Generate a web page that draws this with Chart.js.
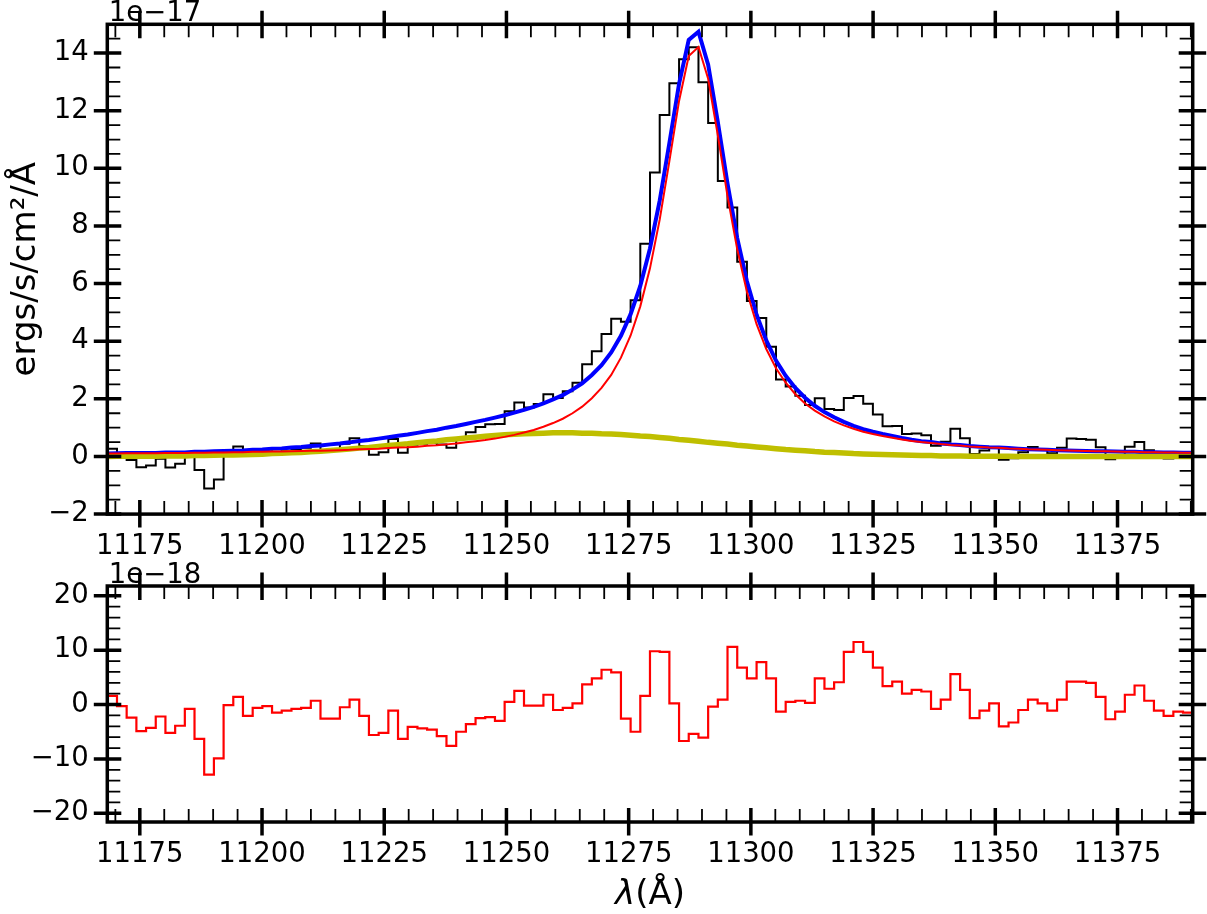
<!DOCTYPE html>
<html>
<head>
<meta charset="utf-8">
<title>Line fit</title>
<script src="https://cdn.jsdelivr.net/npm/chart.js@4/dist/chart.umd.min.js"></script>
<style>
  html, body { margin: 0; padding: 0; background: #fff; }
  #wrap { position: relative; width: 1207px; height: 914px; overflow: hidden; }
  canvas { position: absolute; left: 0; }
  #fluxChart { top: 0; }
  #residChart { top: 560px; }
</style>
</head>
<body>
<div id="wrap">
  <canvas id="fluxChart" width="1207" height="560"></canvas>
  <canvas id="residChart" width="1207" height="354"></canvas>
</div>
<script>
// === Data ===
// wavelength grid (Å); each bin runs from one point to the next
const wavelength = [
  11168.35, 11170.33, 11172.31, 11174.30, 11176.28, 11178.26, 11180.24, 11182.23, 11184.21, 11186.19,
  11188.17, 11190.16, 11192.14, 11194.12, 11196.10, 11198.09, 11200.07, 11202.05, 11204.03, 11206.02,
  11208.00, 11209.98, 11211.96, 11213.95, 11215.93, 11217.91, 11219.89, 11221.87, 11223.86, 11225.84,
  11227.82, 11229.80, 11231.79, 11233.77, 11235.75, 11237.73, 11239.72, 11241.70, 11243.68, 11245.66,
  11247.65, 11249.63, 11251.61, 11253.59, 11255.58, 11257.56, 11259.54, 11261.52, 11263.51, 11265.49,
  11267.47, 11269.45, 11271.43, 11273.42, 11275.40, 11277.38, 11279.36, 11281.35, 11283.33, 11285.31,
  11287.29, 11289.28, 11291.26, 11293.24, 11295.22, 11297.21, 11299.19, 11301.17, 11303.15, 11305.14,
  11307.12, 11309.10, 11311.08, 11313.07, 11315.05, 11317.03, 11319.01, 11321.00, 11322.98, 11324.96,
  11326.94, 11328.92, 11330.91, 11332.89, 11334.87, 11336.85, 11338.84, 11340.82, 11342.80, 11344.78,
  11346.77, 11348.75, 11350.73, 11352.71, 11354.70, 11356.68, 11358.66, 11360.64, 11362.63, 11364.61,
  11366.59, 11368.57, 11370.56, 11372.54, 11374.52, 11376.50, 11378.49, 11380.47, 11382.45, 11384.43,
  11386.42, 11388.40, 11390.38
];

// observed flux per bin (1e-17 ergs/s/cm2/Å)
const fluxData = [
  0.27, 0.09, -0.12, -0.37, -0.31, -0.08, -0.38, -0.25, 0.08, -0.47,
  -1.11, -0.80, 0.19, 0.35, 0.02, 0.18, 0.24, 0.13, 0.20, 0.25,
  0.30, 0.45, 0.16, 0.19, 0.44, 0.63, 0.36, 0.06, 0.15, 0.61,
  0.13, 0.41, 0.44, 0.47, 0.42, 0.30, 0.63, 0.84, 1.02, 1.12,
  1.13, 1.57, 1.87, 1.70, 1.82, 2.16, 2.03, 2.26, 2.56, 3.20,
  3.65, 4.25, 4.78, 4.68, 5.42, 7.38, 9.86, 11.85, 12.95, 13.79,
  14.20, 12.99, 11.57, 9.56, 8.64, 6.76, 5.40, 4.81, 3.81, 2.67,
  2.43, 2.11, 1.79, 2.02, 1.65, 1.61, 2.03, 2.10, 1.83, 1.46,
  1.05, 1.06, 0.78, 0.80, 0.74, 0.37, 0.51, 0.96, 0.63, 0.09,
  0.21, 0.33, -0.11, -0.06, 0.15, 0.33, 0.25, 0.11, 0.30, 0.62,
  0.61, 0.58, 0.32, -0.10, 0.03, 0.34, 0.50, 0.22, 0.03, -0.07,
  0.00, -0.02
];

// residual per bin (1e-18)
const residual = [
  1.6, -0.3, -2.4, -4.9, -4.3, -2.2, -5.2, -3.9, -0.8, -6.3,
  -12.9, -9.9, -0.1, 1.4, -2.1, -0.6, -0.3, -1.5, -1.1, -0.8,
  -0.6, 0.7, -2.6, -2.6, -0.5, 0.9, -2.1, -5.6, -5.2, -1.1,
  -6.3, -4.1, -4.4, -4.6, -5.8, -7.6, -5.0, -3.6, -2.5, -2.3,
  -3.0, 0.5, 2.5, -0.2, -0.2, 1.8, -1.0, -0.6, 0.2, 3.7,
  4.8, 6.4, 5.9, -2.6, -5.0, 1.6, 9.8, 9.7, 0.2, -6.7,
  -5.4, -6.1, -0.4, 0.9, 10.6, 6.8, 4.8, 7.8, 4.8, -1.3,
  0.5, 0.7, 0.3, 4.8, 2.9, 4.1, 9.7, 11.5, 9.7, 6.8,
  3.4, 4.2, 2.0, 2.7, 2.4, -0.8, 0.9, 5.6, 2.7, -2.5,
  -1.1, 0.2, -4.0, -3.3, -1.0, 0.9, 0.2, -1.1, 0.9, 4.2,
  4.2, 4.0, 1.4, -2.7, -1.3, 1.8, 3.5, 0.7, -1.1, -2.1,
  -1.3, -1.5
];

// fitted curves at the wavelength points (1e-17)
const modelTotal = [
  0.10, 0.11, 0.12, 0.12, 0.12, 0.12, 0.14, 0.14, 0.14, 0.16,
  0.16, 0.18, 0.19, 0.20, 0.21, 0.23, 0.24, 0.27, 0.28, 0.31,
  0.33, 0.36, 0.38, 0.42, 0.45, 0.49, 0.54, 0.57, 0.62, 0.67,
  0.72, 0.76, 0.82, 0.88, 0.93, 1.00, 1.06, 1.13, 1.20, 1.27,
  1.35, 1.43, 1.52, 1.62, 1.72, 1.84, 1.98, 2.13, 2.32, 2.54,
  2.83, 3.17, 3.61, 4.19, 4.94, 5.92, 7.22, 8.88, 10.88, 12.93,
  14.46, 14.74, 13.60, 11.61, 9.47, 7.58, 6.08, 4.92, 4.03, 3.33,
  2.80, 2.38, 2.04, 1.76, 1.54, 1.36, 1.20, 1.06, 0.95, 0.86,
  0.78, 0.71, 0.64, 0.58, 0.53, 0.50, 0.45, 0.42, 0.40, 0.36,
  0.34, 0.32, 0.31, 0.29, 0.27, 0.25, 0.24, 0.23, 0.22, 0.21,
  0.20, 0.19, 0.18, 0.18, 0.17, 0.16, 0.16, 0.15, 0.15, 0.14,
  0.14, 0.13, 0.13
];

const lorentzComp = [
  0.10, 0.10, 0.11, 0.11, 0.11, 0.11, 0.12, 0.12, 0.12, 0.13,
  0.13, 0.14, 0.14, 0.15, 0.15, 0.16, 0.16, 0.17, 0.17, 0.18,
  0.19, 0.20, 0.20, 0.21, 0.22, 0.23, 0.25, 0.26, 0.27, 0.29,
  0.31, 0.32, 0.34, 0.37, 0.39, 0.42, 0.45, 0.49, 0.53, 0.57,
  0.62, 0.68, 0.75, 0.83, 0.92, 1.03, 1.16, 1.31, 1.50, 1.73,
  2.02, 2.38, 2.83, 3.43, 4.20, 5.21, 6.53, 8.22, 10.25, 12.34,
  13.90, 14.21, 13.11, 11.15, 9.04, 7.19, 5.72, 4.59, 3.73, 3.06,
  2.56, 2.16, 1.84, 1.59, 1.39, 1.22, 1.08, 0.96, 0.86, 0.78,
  0.71, 0.65, 0.59, 0.54, 0.50, 0.47, 0.43, 0.40, 0.38, 0.35,
  0.33, 0.31, 0.30, 0.28, 0.27, 0.25, 0.24, 0.23, 0.22, 0.21,
  0.20, 0.19, 0.18, 0.18, 0.17, 0.16, 0.16, 0.15, 0.15, 0.14,
  0.14, 0.13, 0.13
];

const gaussComp = [
  0.00, 0.01, 0.01, 0.01, 0.01, 0.01, 0.02, 0.02, 0.02, 0.03,
  0.03, 0.04, 0.05, 0.05, 0.06, 0.07, 0.08, 0.10, 0.11, 0.13,
  0.14, 0.16, 0.18, 0.21, 0.23, 0.26, 0.29, 0.31, 0.35, 0.38,
  0.41, 0.44, 0.48, 0.51, 0.54, 0.58, 0.61, 0.64, 0.67, 0.70,
  0.73, 0.75, 0.77, 0.79, 0.80, 0.81, 0.82, 0.82, 0.82, 0.81,
  0.81, 0.79, 0.78, 0.76, 0.74, 0.71, 0.69, 0.66, 0.63, 0.59,
  0.56, 0.53, 0.49, 0.46, 0.43, 0.39, 0.36, 0.33, 0.30, 0.27,
  0.24, 0.22, 0.20, 0.17, 0.15, 0.14, 0.12, 0.10, 0.09, 0.08,
  0.07, 0.06, 0.05, 0.04, 0.03, 0.03, 0.02, 0.02, 0.02, 0.01,
  0.01, 0.01, 0.01, 0.01, 0.00, 0.00, 0.00, 0.00, 0.00, 0.00,
  0.00, 0.00, 0.00, 0.00, 0.00, 0.00, 0.00, 0.00, 0.00, 0.00,
  0.00, 0.00, 0.00
];

// tick labels
const xTicks = [11175, 11200, 11225, 11250, 11275, 11300, 11325, 11350, 11375];
const fluxTicks = [-2, 0, 2, 4, 6, 8, 10, 12, 14];
const residTicks = [-20, -10, 0, 10, 20];

// === Helpers ===
// bin i spans wavelength[i]..wavelength[i+1]; step drawn with 'after' (vertical at the previous point)
function stepPoints(vals) {
  const pts = [{ x: wavelength[0], y: vals[0] }];
  vals.forEach((v, i) => pts.push({ x: wavelength[i + 1], y: v }));
  return pts;
}
function curvePoints(vals) {
  return vals.map((v, i) => ({ x: wavelength[i], y: v }));
}
const fmt = v => (v < 0 ? '\u2212' + Math.abs(v) : String(v));

Chart.defaults.font.family = '"DejaVu Sans", sans-serif';
Chart.defaults.color = '#000';

const TICK_FONT = 27.5;
const MAJOR_IN = 14, MAJOR_OUT = 13.5, MINOR_IN = 13;

// spines, inout major ticks and inward minor ticks on all four sides
const axisFrame = {
  id: 'axisFrame',
  afterDatasetsDraw(chart, args, opts) {
    const { ctx, chartArea: a, scales: { x, y } } = chart;
    ctx.save();
    ctx.strokeStyle = '#000';
    ctx.lineCap = 'butt';

    // minor ticks
    ctx.lineWidth = 1.8;
    ctx.beginPath();
    for (let v = Math.ceil(x.min / opts.xMinor) * opts.xMinor; v <= x.max; v += opts.xMinor) {
      if (opts.xMajor.includes(v)) continue;
      const px = x.getPixelForValue(v);
      ctx.moveTo(px, a.bottom); ctx.lineTo(px, a.bottom - MINOR_IN);
      ctx.moveTo(px, a.top); ctx.lineTo(px, a.top + MINOR_IN);
    }
    for (let v = Math.ceil(y.min / opts.yMinor) * opts.yMinor; v <= y.max; v += opts.yMinor) {
      if (opts.yMajor.includes(v)) continue;
      const py = y.getPixelForValue(v);
      ctx.moveTo(a.left, py); ctx.lineTo(a.left + MINOR_IN, py);
      ctx.moveTo(a.right, py); ctx.lineTo(a.right - MINOR_IN, py);
    }
    ctx.stroke();

    // major ticks
    ctx.lineWidth = 3.5;
    ctx.beginPath();
    opts.xMajor.forEach(v => {
      const px = x.getPixelForValue(v);
      ctx.moveTo(px, a.bottom + MAJOR_OUT); ctx.lineTo(px, a.bottom - MAJOR_IN);
      ctx.moveTo(px, a.top - MAJOR_OUT); ctx.lineTo(px, a.top + MAJOR_IN);
    });
    opts.yMajor.forEach(v => {
      const py = y.getPixelForValue(v);
      ctx.moveTo(a.left - MAJOR_OUT, py); ctx.lineTo(a.left + MAJOR_IN, py);
      ctx.moveTo(a.right + MAJOR_OUT, py); ctx.lineTo(a.right - MAJOR_IN, py);
    });
    ctx.stroke();

    // spines
    ctx.lineWidth = 3.5;
    ctx.strokeRect(a.left, a.top, a.right - a.left, a.bottom - a.top);

    // offset text (scale factor)
    ctx.fillStyle = '#000';
    ctx.font = TICK_FONT + 'px "DejaVu Sans"';
    ctx.textAlign = 'left';
    ctx.textBaseline = 'alphabetic';
    ctx.fillText(opts.offsetText, a.left + 1.5, a.top - 3);

    // x axis label: italic lambda + (Å)
    if (opts.xLabel) {
      const size = 34;
      const italic = 'italic ' + size + 'px "DejaVu Sans"';
      const upright = size + 'px "DejaVu Sans"';
      ctx.font = italic;
      const w1 = ctx.measureText('\u03bb').width;
      ctx.font = upright;
      const w2 = ctx.measureText('(\u00c5)').width;
      const cx = (a.left + a.right) / 2;
      const left = cx - (w1 + w2) / 2;
      ctx.textBaseline = 'middle';
      ctx.font = italic;
      ctx.fillText('\u03bb', left, opts.xLabelY);
      ctx.font = upright;
      ctx.fillText('(\u00c5)', left + w1, opts.xLabelY);
    }
    ctx.restore();
  }
};

function xScale(height) {
  return {
    type: 'linear',
    min: wavelength[0],
    max: wavelength[wavelength.length - 1],
    afterBuildTicks: s => { s.ticks = xTicks.map(v => ({ value: v })); },
    afterFit: s => { s.height = height; s.paddingLeft = 0; s.paddingRight = 0; },
    ticks: { callback: v => String(v), font: { size: TICK_FONT }, padding: 16, maxRotation: 0, autoSkip: false },
    grid: { display: false, drawTicks: false },
    border: { display: false }
  };
}

function yScale(min, max, ticks, extra) {
  return Object.assign({
    min: min,
    max: max,
    afterBuildTicks: s => { s.ticks = ticks.map(v => ({ value: v })); },
    // fixed axis width; no extra label padding so the plot box keeps its place
    afterFit: s => { s.width = 107.3; s.paddingTop = 0; s.paddingBottom = 0; },
    ticks: { callback: fmt, font: { size: TICK_FONT }, padding: 18.5 },
    grid: { display: false, drawTicks: false },
    border: { display: false }
  }, extra || {});
}

// === Flux panel ===
new Chart(document.getElementById('fluxChart'), {
  type: 'line',
  data: {
    datasets: [
      { label: 'data', data: stepPoints(fluxData), stepped: 'after', borderColor: '#000000', borderWidth: 2, pointRadius: 0, order: 4 },
      { label: 'model', data: curvePoints(modelTotal), borderColor: '#0000ff', borderWidth: 4, pointRadius: 0, order: 3 },
      { label: 'gaussian', data: curvePoints(gaussComp), borderColor: '#bfbf00', borderWidth: 5.5, pointRadius: 0, order: 2 },
      { label: 'lorentzian', data: curvePoints(lorentzComp), borderColor: '#ff0000', borderWidth: 2, pointRadius: 0, order: 1 }
    ]
  },
  options: {
    responsive: false,
    animation: false,
    devicePixelRatio: 1,
    layout: { autoPadding: false, padding: { left: 0, right: 14.3, top: 24.3, bottom: 0 } },
    plugins: {
      legend: { display: false },
      tooltip: { enabled: false },
      axisFrame: { xMajor: xTicks, xMinor: 5, yMajor: fluxTicks, yMinor: 0.5, offsetText: '1e\u221217', xLabel: false }
    },
    scales: {
      x: xScale(45.9),
      y: yScale(-2, 15, fluxTicks, {
        title: { display: true, text: 'ergs/s/cm\u00b2/\u00c5', font: { size: 34 }, padding: { top: 6, bottom: 0 } }
      })
    }
  },
  plugins: [axisFrame]
});

// === Residual panel ===
new Chart(document.getElementById('residChart'), {
  type: 'line',
  data: {
    datasets: [
      { label: 'residual', data: stepPoints(residual), stepped: 'after', borderColor: '#ff0000', borderWidth: 2.2, pointRadius: 0 }
    ]
  },
  options: {
    responsive: false,
    animation: false,
    devicePixelRatio: 1,
    layout: { autoPadding: false, padding: { left: 0, right: 14.3, top: 26, bottom: 0 } },
    plugins: {
      legend: { display: false },
      tooltip: { enabled: false },
      axisFrame: { xMajor: xTicks, xMinor: 5, yMajor: residTicks, yMinor: 2, offsetText: '1e\u221218', xLabel: true, xLabelY: 335 }
    },
    scales: {
      x: xScale(92),
      y: yScale(-21.6, 21.8, residTicks)
    }
  },
  plugins: [axisFrame]
});
</script>
</body>
</html>
